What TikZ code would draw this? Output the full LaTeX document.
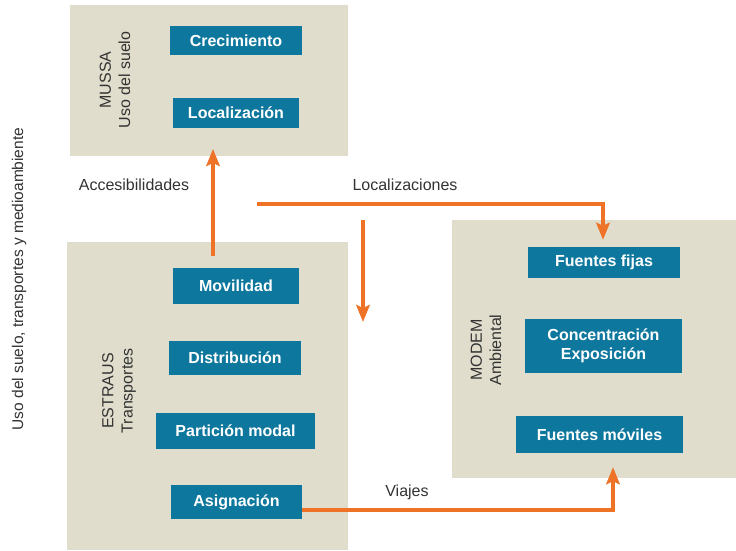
\documentclass[tikz,border=0pt]{standalone}
\usepackage{fontspec}
\setmainfont{Liberation Sans}
\usetikzlibrary{arrows.meta}
\definecolor{panelbg}{HTML}{E0DDCC}
\definecolor{boxbg}{HTML}{0E779D}
\definecolor{arrowc}{HTML}{EE7326}
\definecolor{txt}{HTML}{333333}
\tikzset{
  panel/.style={fill=panelbg, draw=none, inner sep=0pt, rectangle},
  mbox/.style={fill=boxbg, draw=none, inner sep=0pt, rectangle, text=white, align=center,
    font=\fontsize{16}{19.5}\selectfont\bfseries},
  plabel/.style={rotate=90, align=center, text=txt, font=\fontsize{16}{19.2}\selectfont},
  lbl/.style={text=txt, font=\fontsize{16}{19}\selectfont},
  arr/.style={draw=arrowc, line width=4.6pt, -{Stealth[length=17pt,width=13.5pt,inset=3pt]}},
}
\begin{document}
\begin{tikzpicture}[x=1pt,y=-1pt]
\useasboundingbox (0,0) rectangle (736,550);
% panels
\node[panel, minimum width=278pt, minimum height=151pt] (mussa) at (209,80.5) {};
\node[panel, minimum width=281pt, minimum height=308pt] (estraus) at (207.5,396) {};
\node[panel, minimum width=284pt, minimum height=258pt] (modem) at (594,349) {};
% panel labels
\node[plabel] (lmussa) at (115,80) {MUSSA\\Uso del suelo};
\node[plabel] (lestraus) at (119,391) {ESTRAUS\\Transportes};
\node[plabel] (lmodem) at (486,350) {MODEM\\Ambiental};
\node[plabel, font=\fontsize{15.5}{18}\selectfont] (lside) at (19,279) {Uso del suelo, transportes y medioambiente};
% boxes
\node[mbox, minimum width=132pt, minimum height=29pt] (crec) at (236,40.5) {Crecimiento};
\node[mbox, minimum width=126pt, minimum height=30pt] (loc) at (236,113) {Localización};
\node[mbox, minimum width=126pt, minimum height=36pt] (mov) at (236,286) {Movilidad};
\node[mbox, minimum width=132pt, minimum height=34pt] (dist) at (235,358) {Distribución};
\node[mbox, minimum width=159pt, minimum height=36pt] (part) at (235.5,431) {Partición modal};
\node[mbox, minimum width=131pt, minimum height=34pt] (asig) at (236.5,502) {Asignación};
\node[mbox, minimum width=152pt, minimum height=31pt] (ffij) at (604,262.5) {Fuentes fijas};
\node[mbox, minimum width=157pt, minimum height=54pt] (conc) at (603.5,346) {Concentración\\Exposición};
\node[mbox, minimum width=167pt, minimum height=37pt] (fmov) at (599.5,434.5) {Fuentes móviles};
% text labels
\node[lbl] (tacc) at (134,185) {Accesibilidades};
\node[lbl] (tloc) at (405,185) {Localizaciones};
\node[lbl] (tvia) at (407,492) {Viajes};
% connectors
\coordinate (accs) at (213,256);
\coordinate (acce) at (213,149);
\draw[arr] (accs) -- (acce);
\coordinate (locs) at (257,204);
\draw[arr, shorten >=7pt] (locs) -| ([xshift=-1pt]ffij.north);
\coordinate (dns) at (363,220);
\coordinate (dne) at (363,322);
\draw[arr] (dns) -- (dne);
\draw[arr, shorten >=14pt] ([yshift=-8pt]asig.east) -| ([xshift=13.5pt]fmov.south);
\end{tikzpicture}
\end{document}
